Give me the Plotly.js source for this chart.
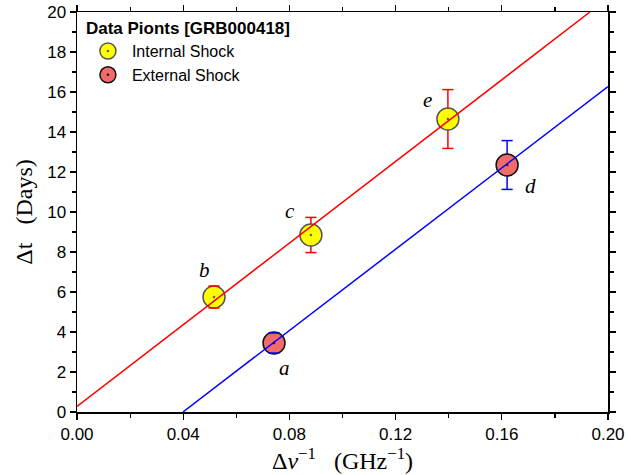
<!DOCTYPE html>
<html><head><meta charset="utf-8">
<script src="https://cdn.plot.ly/plotly-3.0.1.min.js"></script>
<style>body{margin:0;background:#fff}#c{width:628px;height:475px}</style>
</head><body><div id="c"></div>
<script>
// Internal shock points (b, c, e)
const intLabels = ['b','c','e'];
const intX = [0.0516, 0.0881, 0.1397];
const intY = [5.75, 8.85, 14.65];
const intErr = [0.55, 0.88, 1.47];
// External shock points (a, d)
const extLabels = ['a','d'];
const extX = [0.0742, 0.1620];
const extY = [3.45, 12.35];
const extErr = [0.50, 1.22];
// Fit lines (endpoints)
const intFitX = [0.0, 0.1932];
const intFitY = [0.28, 20.0];
const extFitX = [0.0399, 0.20];
const extFitY = [0.0, 16.27];

const labelShift = {a:[10,-25], b:[-10,27], c:[-21,24], d:[23,-21], e:[-20,19]};

function capTrace(xs, ys, errs, color){
  const cx = [], cy = [];
  xs.forEach((x,i)=>{ cx.push(x, x); cy.push(ys[i]+errs[i], ys[i]-errs[i]); });
  return {x:cx, y:cy, mode:'markers', showlegend:false, hoverinfo:'skip', type:'scatter',
    marker:{symbol:'line-ew', size:8, color:color, line:{color:color, width:1.5}}};
}

const traces = [
  {x:intX, y:intY, mode:'markers', name:'Internal Shock', type:'scatter',
   error_y:{type:'data', array:intErr, visible:true, color:'#ff0000', thickness:1.5, width:0},
   marker:{symbol:'circle-dot', size:22, color:'#ffff00', line:{color:'#555555', width:1.5}}},
  {x:extX, y:extY, mode:'markers', name:'External Shock', type:'scatter',
   error_y:{type:'data', array:extErr, visible:true, color:'#0000ff', thickness:1.5, width:0},
   marker:{symbol:'circle-dot', size:22, color:'#f26a6a', line:{color:'#111111', width:1.5}}},
  capTrace(intX, intY, intErr, '#ff0000'),
  capTrace(extX, extY, extErr, '#0000ff'),
  {x:intFitX, y:intFitY, mode:'lines', showlegend:false, type:'scatter', line:{color:'#ff0000', width:1.5}},
  {x:extFitX, y:extFitY, mode:'lines', showlegend:false, type:'scatter', line:{color:'#0000ff', width:1.5}}
];

const annotations = [];
function addLabels(labels, xs, ys){
  labels.forEach((l,i)=>{
    annotations.push({x:xs[i], y:ys[i], xref:'x', yref:'y', text:'<i>'+l+'</i>', showarrow:false,
      xshift:labelShift[l][0], yshift:labelShift[l][1],
      font:{family:'Liberation Serif, DejaVu Serif, serif', size:21, color:'#000'}});
  });
}
addLabels(intLabels, intX, intY);
addLabels(extLabels, extX, extY);

const axisCommon = {showline:true, linecolor:'#000', linewidth:1.5, mirror:'ticks', ticks:'outside',
  ticklen:6, tickwidth:1.2, tickcolor:'#000', showgrid:false, zeroline:false,
  tickfont:{family:'Liberation Sans, Arial, sans-serif', size:17, color:'#000'}};

const layout = {
  width:628, height:475, margin:{l:77, r:20, t:12, b:63},
  paper_bgcolor:'#fff', plot_bgcolor:'#fff', showlegend:true,
  xaxis:Object.assign({}, axisCommon, {range:[0,0.2], dtick:0.04, tick0:0, tickformat:'.2f',
    minor:{dtick:0.02, ticklen:4, tickwidth:1.2, tickcolor:'#000', ticks:'outside'},
    title:{text:'Δ<i>ν</i><sup>−1</sup>&nbsp;&nbsp;&nbsp;(GHz<sup>−1</sup>)', standoff:0,
      font:{family:'Liberation Serif, DejaVu Serif, serif', size:24, color:'#000'}}}),
  yaxis:Object.assign({}, axisCommon, {range:[0,20], dtick:2, tick0:0,
    minor:{dtick:1, ticklen:4, tickwidth:1.2, tickcolor:'#000', ticks:'outside'},
    title:{text:'Δt&nbsp;&nbsp;&nbsp;(Days)', standoff:8,
      font:{family:'Liberation Serif, DejaVu Serif, serif', size:24, color:'#000'}}}),
  legend:{x:0.013, y:1.0, xanchor:'left', yanchor:'top', bgcolor:'rgba(0,0,0,0)',
    title:{text:'<b>Data Pionts [GRB000418]</b>', font:{family:'Liberation Sans, Arial, sans-serif', size:17, color:'#000'}},
    font:{family:'Liberation Sans, Arial, sans-serif', size:16, color:'#000'}, tracegroupgap:0, itemwidth:38},
  annotations:annotations
};
Plotly.newPlot('c', traces, layout, {staticPlot:true});
</script></body></html>
